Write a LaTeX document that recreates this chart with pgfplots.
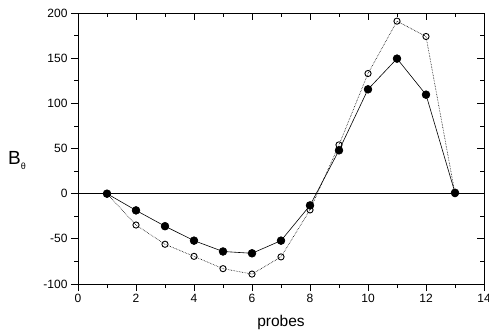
\documentclass[border=0pt]{standalone}
\usepackage{fontspec}
\setmainfont{Liberation Sans}
\usepackage{pgfplots}
\pgfplotsset{compat=1.18}
\begin{document}
\begin{tikzpicture}
\useasboundingbox (-78pt,-46pt) rectangle (411pt,284pt);
\pgfplotsset{
  common/.style={
    width=406pt, height=271pt, scale only axis,
    xmin=0, xmax=14, ymin=-100, ymax=200,
    xtick={0,2,...,14}, ytick={-100,-50,...,200},
    minor x tick num=1, minor y tick num=1,
    major tick length=7pt, minor tick length=4pt,
    axis line style={line width=0.9pt},
    every tick/.style={black, line width=0.8pt},
    /pgf/number format/assume math mode=true,
  }
}
\begin{axis}[common,
  name=main,
  tick align=outside,
  xtick pos=left, ytick pos=left,
  ticklabel style={font=\fontsize{12}{14}\selectfont},
  xlabel={probes},
  xlabel style={font=\fontsize{15.5}{18}\selectfont, at={(axis description cs:0.5,0)}, anchor=center, yshift=-38pt},
]
\addplot[black, line width=0.8pt, forget plot] coordinates {(0,0) (14,0)};
\addplot[black, densely dotted, line width=0.6pt, mark=o, mark size=3.1pt, mark options={solid, fill=white, line width=0.9pt}] coordinates {
(1,0) (2,-34.7) (3,-56) (4,-69.4) (5,-83) (6,-89) (7,-70) (8,-18) (9,54) (10,133) (11,191) (12,174) (13,0)
};
\addplot[black, line width=0.6pt, mark=*, mark size=3.9pt] coordinates {
(1,0) (2,-18.5) (3,-36) (4,-52) (5,-64) (6,-66) (7,-52) (8,-13) (9,48) (10,115.5) (11,149.5) (12,109.6) (13,1)
};
\end{axis}
\begin{axis}[common,
  tick align=inside,
  xtick pos=right, ytick pos=right,
  xticklabels={}, yticklabels={},
]
\end{axis}
\node[anchor=base west, inner sep=0pt, font=\fontsize{19}{21}\selectfont] at (-70pt,120pt) {B\raisebox{-5pt}{\fontsize{9}{10}\selectfont θ}};
\end{tikzpicture}
\end{document}
